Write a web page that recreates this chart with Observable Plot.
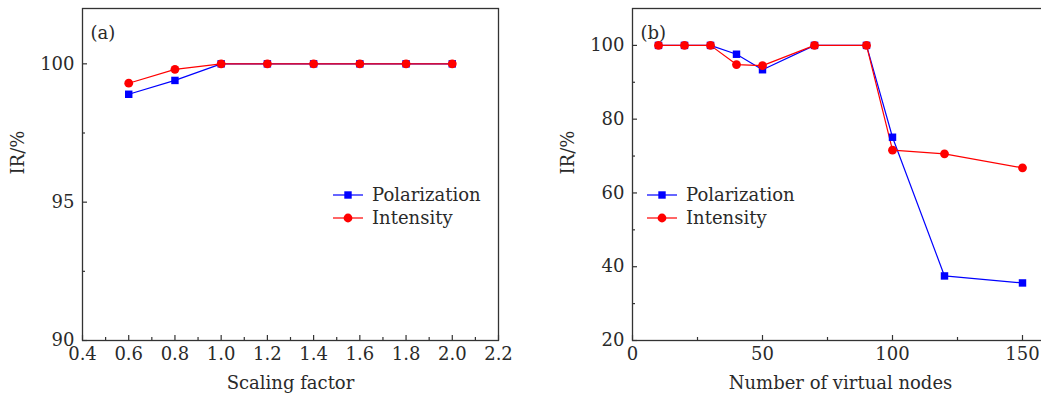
<!DOCTYPE html>
<html><head><meta charset="utf-8">
<script src="https://cdn.jsdelivr.net/npm/d3@7"></script>
<script src="https://cdn.jsdelivr.net/npm/@observablehq/plot@0.6"></script>
<style>
html,body{margin:0;padding:0;background:#fff;overflow:hidden}
#wrap{position:relative;width:1041px;height:396px;overflow:hidden}
#a,#b{position:absolute;top:0}
#a{left:0;width:520px} #b{left:520px;width:540px}
svg{overflow:visible;max-width:none !important}
</style></head><body>
<div id="wrap"><div id="a"></div><div id="b"></div></div>
<script>
// Panel (a)
const scaleFactor = [0.6, 0.8, 1.0, 1.2, 1.4, 1.6, 1.8, 2.0];
const polA = [98.9, 99.4, 100, 100, 100, 100, 100, 100];
const intA = [99.3, 99.8, 100, 100, 100, 100, 100, 100];
const xTicksA = [0.4, 0.6, 0.8, 1.0, 1.2, 1.4, 1.6, 1.8, 2.0, 2.2];
const xMinorA = [0.5, 0.7, 0.9, 1.1, 1.3, 1.5, 1.7, 1.9, 2.1];
const yTicksA = [90, 95, 100];
const yMinorA = [92.5, 97.5];
// Panel (b)
const nodes = [10, 20, 30, 40, 50, 70, 90, 100, 120, 150];
const polB = [100, 100, 100, 97.6, 93.4, 100, 100, 75.1, 37.5, 35.6];
const intB = [100, 100, 100, 94.8, 94.5, 100, 100, 71.6, 70.6, 66.8];
const xTicksB = [0, 50, 100, 150];
const xMinorB = [25, 75, 125];
const yTicksB = [20, 40, 60, 80, 100];
const yMinorB = [30, 50, 70, 90];
const series = ["Polarization", "Intensity"];
const colors = ["#0000ff", "#ff0000"];

const FONT = "DejaVu Serif";
const FS = 18;
const TXT = "#2a2a2a";

function panel(opts) {
  const {el, xs, pol, int, xDomain, yDomain, xTicks, xMinor, yTicks, yMinor, xLabel, tag, width, marginLeft, marginRight, tickFmt, legendX} = opts;
  const rows = [];
  xs.forEach((x, i) => { rows.push({x, y: pol[i], s: series[0]}); });
  xs.forEach((x, i) => { rows.push({x, y: int[i], s: series[1]}); });
  const height = 396, marginTop = 8, marginBottom = 56;
  const innerH = height - marginTop - marginBottom;
  const innerW = width - marginLeft - marginRight;
  const chart = Plot.plot({
    width, height, marginTop, marginBottom, marginLeft, marginRight,
    style: {fontFamily: FONT, fontSize: FS + "px", color: TXT, background: "transparent", maxWidth: "none"},
    x: {domain: xDomain},
    y: {domain: yDomain},
    color: {domain: series, range: colors},
    marks: [
      Plot.axisX(xTicks, {tickSize: 0, tickPadding: 7, tickFormat: tickFmt, label: null, fontSize: FS + "px"}),
      Plot.axisY(yTicks, {tickSize: 0, tickPadding: 8, label: null, fontSize: FS + "px"}),
      Plot.tickX(xTicks, {x: d => d, insetTop: innerH - 5, stroke: "#333", strokeWidth: 1.2}),
      Plot.tickX(xMinor, {x: d => d, insetTop: innerH - 3, stroke: "#333", strokeWidth: 1.2}),
      Plot.tickY(yTicks, {y: d => d, insetRight: innerW - 5, stroke: "#333", strokeWidth: 1.2}),
      Plot.tickY(yMinor, {y: d => d, insetRight: innerW - 3, stroke: "#333", strokeWidth: 1.2}),
      Plot.line(rows, {x: "x", y: "y", z: "s", stroke: "s", strokeWidth: 1.2}),
      Plot.dot(rows.filter(d => d.s === series[0]), {x: "x", y: "y", fill: colors[0], symbol: "square", r: 4.2, stroke: "none"}),
      Plot.dot(rows.filter(d => d.s === series[1]), {x: "x", y: "y", fill: colors[1], symbol: "circle", r: 4.4, stroke: "none"}),
      Plot.frame({stroke: "#333", strokeWidth: 1.3}),
      Plot.text([tag], {frameAnchor: "top-left", dx: 8, dy: 18, text: d => d, textAnchor: "start", fontSize: FS + "px", fill: TXT}),
      Plot.text([xLabel], {frameAnchor: "bottom", dy: 43, text: d => d, lineAnchor: "middle", fontSize: FS + "px", fill: TXT}),
      Plot.text(["IR/%"], {frameAnchor: "left", dx: -64, rotate: -90, text: d => d, lineAnchor: "middle", fontSize: FS + "px", fill: TXT})
    ]
  });
  // legend
  const svg = d3.select(chart);
  const g = svg.append("g").attr("transform", `translate(${legendX},195)`)
    .attr("font-family", FONT).attr("font-size", FS).attr("text-anchor", "start");
  series.forEach((s, i) => {
    const gy = i * 23;
    g.append("line").attr("x1", 0).attr("x2", 30).attr("y1", gy).attr("y2", gy).attr("stroke", colors[i]).attr("stroke-width", 1.2);
    if (i === 0) g.append("rect").attr("x", 11.3).attr("y", gy - 3.7).attr("width", 7.4).attr("height", 7.4).attr("fill", colors[i]);
    else g.append("circle").attr("cx", 15).attr("cy", gy).attr("r", 4.4).attr("fill", colors[i]);
    g.append("text").attr("x", 39).attr("y", gy).attr("dy", "0.35em").attr("fill", TXT).attr("text-anchor", "start").text(s);
  });
  document.getElementById(el).appendChild(chart);
}

panel({el: "a", xs: scaleFactor, pol: polA, int: intA, xDomain: [0.4, 2.2], yDomain: [90, 102],
  xTicks: xTicksA, xMinor: xMinorA, yTicks: yTicksA, yMinor: yMinorA, xLabel: "Scaling factor", tag: "(a)",
  width: 520, marginLeft: 82, marginRight: 22, tickFmt: d3.format(".1f"), legendX: 333});
panel({el: "b", xs: nodes, pol: polB, int: intB, xDomain: [0, 160], yDomain: [20, 110],
  xTicks: xTicksB, xMinor: xMinorB, yTicks: yTicksB, yMinor: yMinorB, xLabel: "Number of virtual nodes", tag: "(b)",
  width: 538, marginLeft: 112, marginRight: 10, tickFmt: d3.format("d"), legendX: 127});
</script>
</body></html>
